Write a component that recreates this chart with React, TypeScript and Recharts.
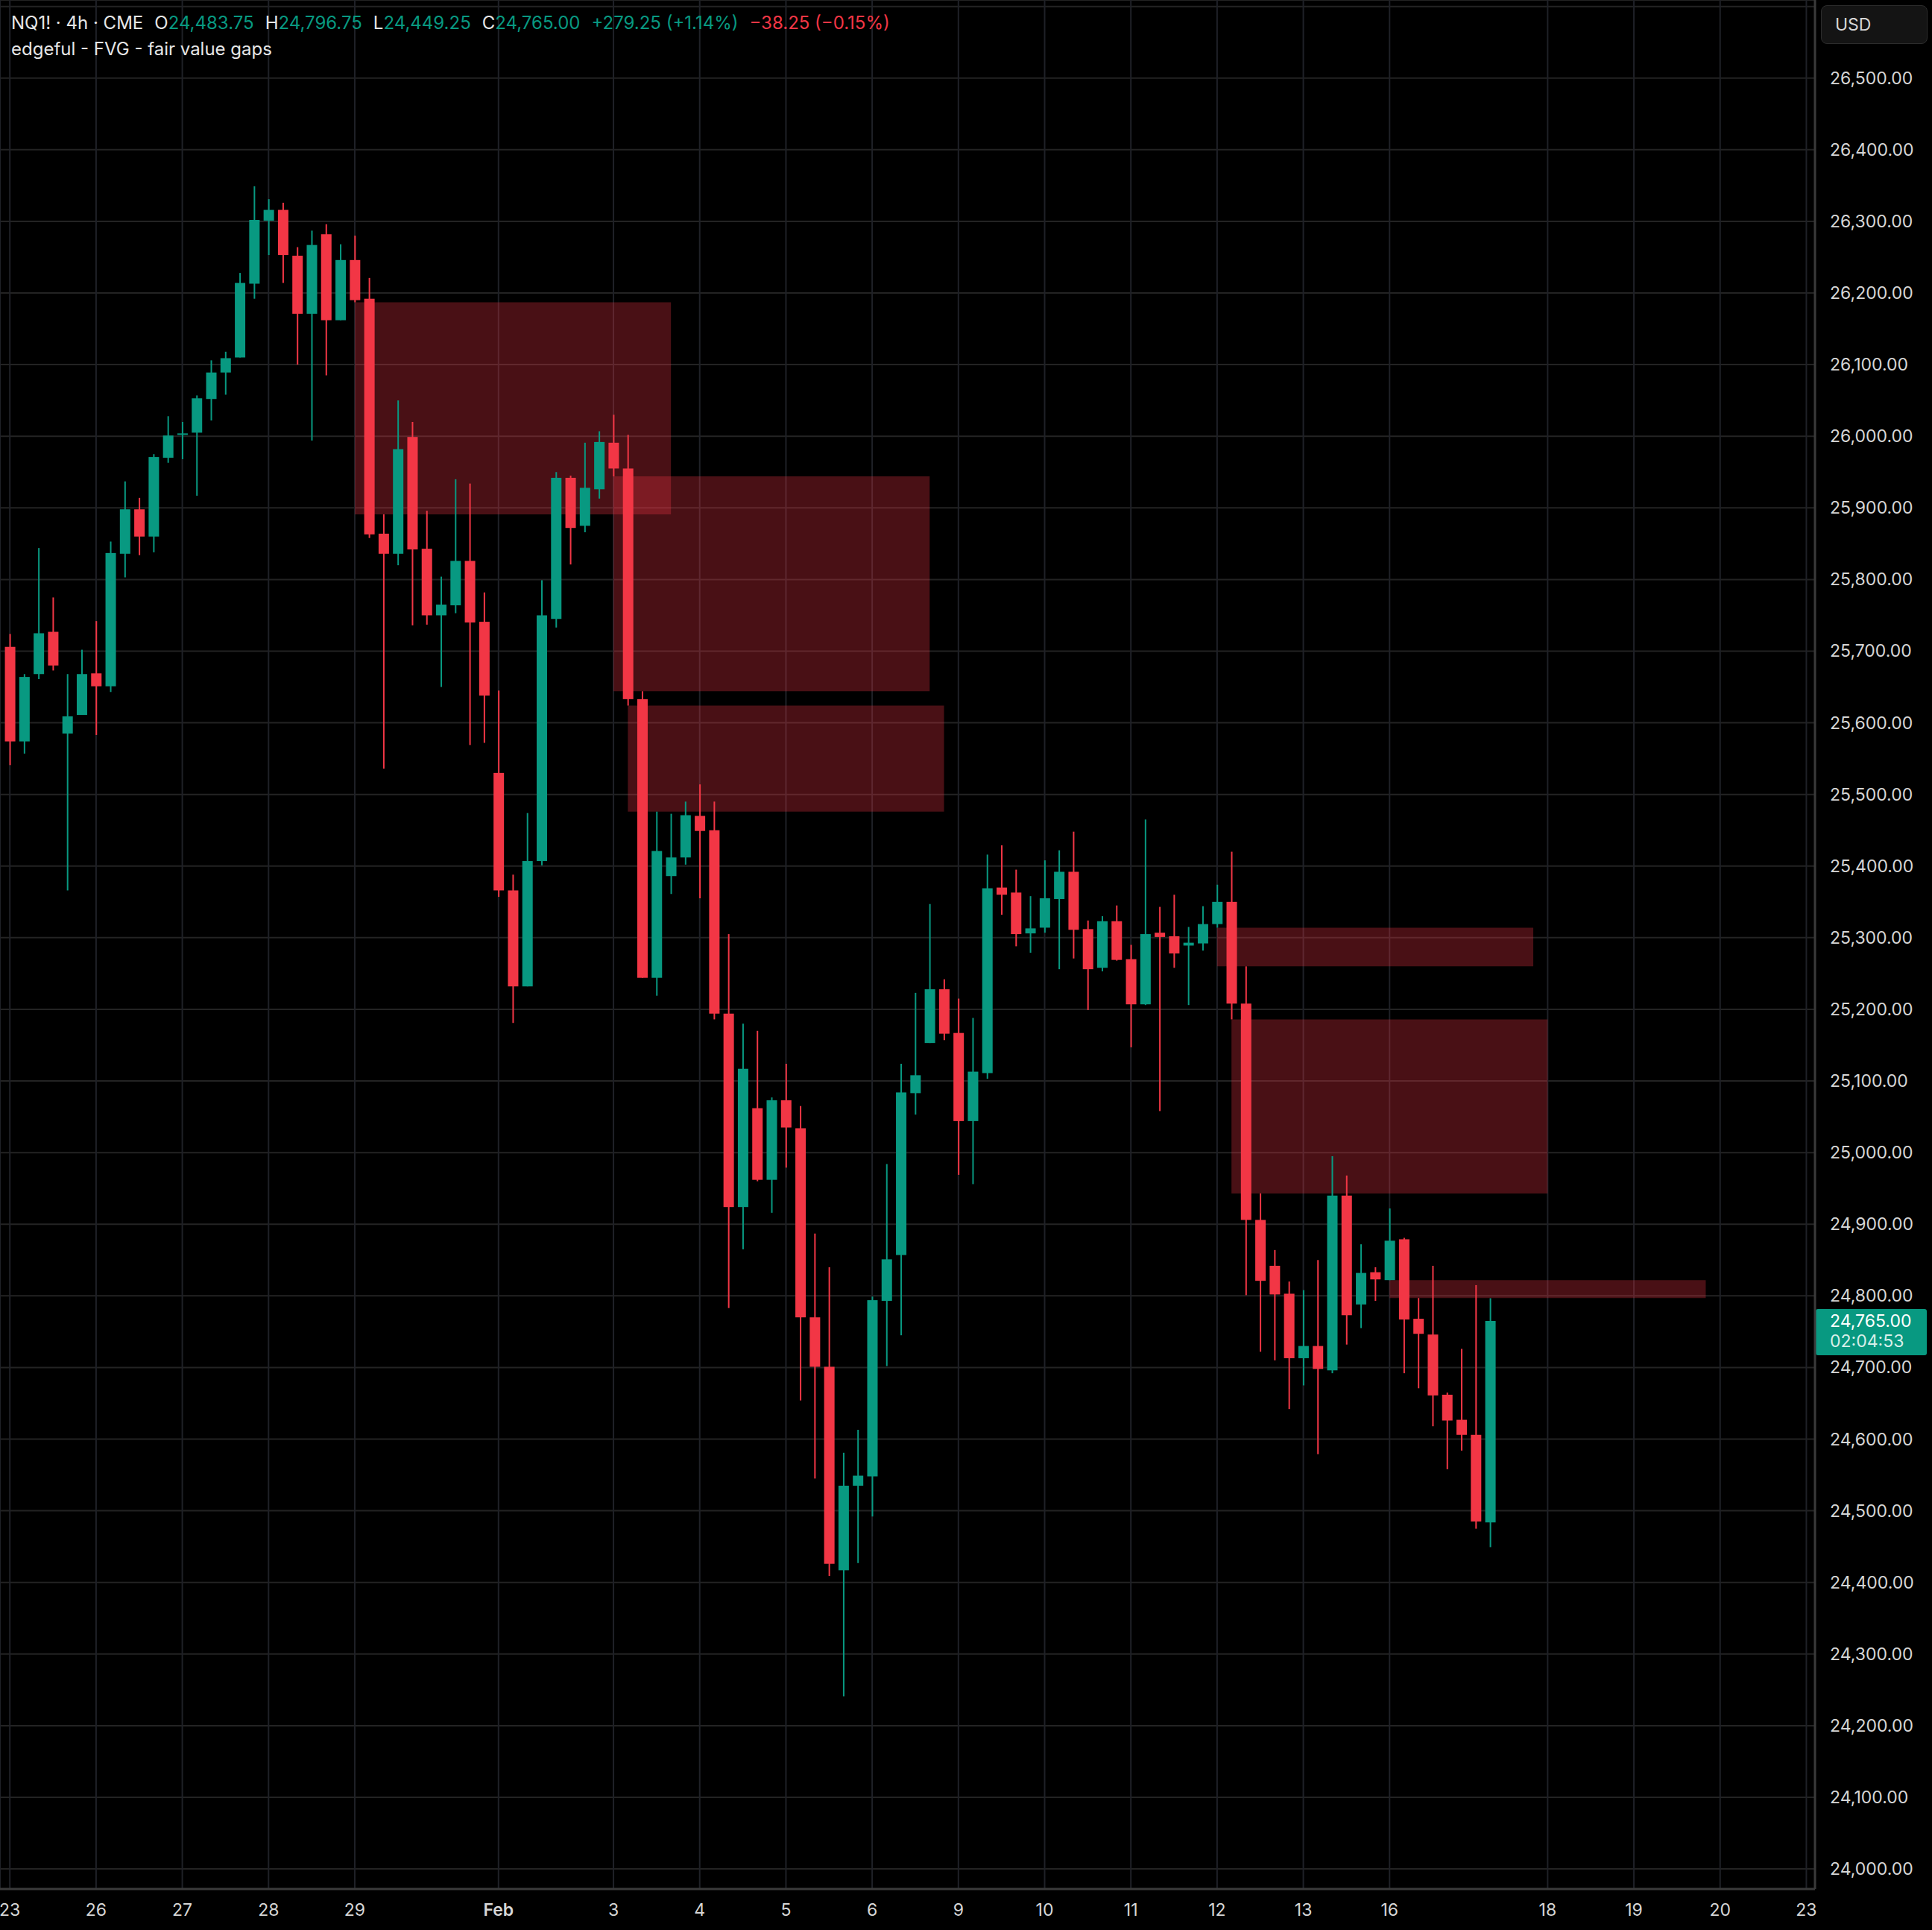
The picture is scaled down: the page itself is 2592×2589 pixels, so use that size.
import React from 'react';
import { ComposedChart, Bar, XAxis, YAxis, CartesianGrid, ReferenceArea, ReferenceLine } from 'recharts';

// NQ1! 4h candles
const opens = [
  25706, 25574, 25668, 25727, 25585, 25611, 25669, 25651, 25836, 25898,
  25860, 25970, 26002, 26005, 26052, 26089, 26110, 26213, 26301, 26316,
  26252, 26171, 26282, 26162, 26246, 26192, 25864, 25836, 25999, 25843,
  25750, 25764, 25826, 25741, 25530, 25366, 25232, 25407, 25745, 25942,
  25875, 25926, 25991, 25955, 25633, 25244, 25386, 25412, 25470, 25450,
  25194, 24924, 25062, 24962, 25073, 25034, 24770, 24701, 24417, 24535,
  24548, 24793, 24857, 25083, 25153, 25228, 25167, 25044, 25111, 25370,
  25363, 25306, 25314, 25354, 25392, 25312, 25258, 25323, 25270, 25207,
  25307, 25302, 25289, 25292, 25319, 25350, 25208, 24906, 24842, 24803,
  24713, 24730, 24696, 24940, 24788, 24833, 24822, 24879, 24768, 24746,
  24662, 24627, 24606, 24483.75,
];
const highs = [
  25724, 25668, 25844, 25775, 25668, 25702, 25742, 25853, 25937, 25914,
  25975, 26028, 26020, 26057, 26106, 26118, 26228, 26349, 26331, 26326,
  26264, 26287, 26296, 26268, 26280, 26221, 25891, 26050, 26020, 25896,
  25804, 25940, 25934, 25782, 25645, 25388, 25474, 25799, 25950, 25945,
  25991, 26007, 26030, 26002, 25644, 25476, 25473, 25490, 25514, 25490,
  25305, 25180, 25170, 25077, 25124, 25065, 24887, 24840, 24581, 24613,
  24799, 24984, 25124, 25223, 25347, 25242, 25215, 25188, 25416, 25429,
  25395, 25358, 25408, 25422, 25448, 25324, 25330, 25345, 25290, 25465,
  25343, 25360, 25315, 25344, 25374, 25420, 25260, 24943, 24864, 24820,
  24808, 24850, 24995, 24968, 24872, 24840, 24922, 24881, 24797, 24842,
  24665, 24726, 24815, 24796.75,
];
const lows = [
  25541, 25557, 25661, 25673, 25366, 25611, 25583, 25643, 25803, 25834,
  25838, 25963, 25968, 25917, 26022, 26058, 26110, 26192, 26253, 26214,
  26100, 25994, 26085, 26162, 26187, 25858, 25536, 25820, 25736, 25737,
  25650, 25753, 25569, 25572, 25357, 25181, 25232, 25401, 25733, 25821,
  25866, 25913, 25944, 25624, 25244, 25219, 25361, 25402, 25355, 25186,
  24783, 24865, 24960, 24916, 24979, 24654, 24545, 24409, 24241, 24427,
  24492, 24702, 24745, 25053, 25153, 25157, 24969, 24956, 25103, 25332,
  25288, 25279, 25307, 25256, 25271, 25199, 25253, 25268, 25147, 25206,
  25058, 25258, 25206, 25282, 25314, 25186, 24801, 24722, 24710, 24642,
  24675, 24579, 24692, 24732, 24755, 24793, 24822, 24692, 24671, 24618,
  24558, 24584, 24475, 24449.25,
];
const closes = [
  25574, 25664, 25725, 25680, 25609, 25668, 25651, 25837, 25898, 25860,
  25971, 26001, 26004, 26053, 26089, 26109, 26214, 26302, 26316, 26253,
  26171, 26267, 26162, 26246, 26190, 25863, 25836, 25982, 25842, 25750,
  25765, 25826, 25740, 25638, 25366, 25232, 25407, 25750, 25942, 25872,
  25928, 25992, 25955, 25633, 25244, 25421, 25412, 25471, 25449, 25194,
  24924, 25117, 24962, 25073, 25035, 24770, 24701, 24426, 24535, 24549,
  24794, 24851, 25084, 25108, 25228, 25166, 25044, 25113, 25369, 25360,
  25305, 25313, 25355, 25392, 25311, 25256, 25323, 25269, 25207, 25305,
  25301, 25278, 25293, 25319, 25350, 25208, 24906, 24821, 24802, 24713,
  24730, 24698, 24940, 24773, 24832, 24823, 24877, 24767, 24747, 24661,
  24626, 24606, 24485, 24765,
];

// x axis: bar index of each day label
const dayTicks = [0, 6, 12, 18, 24, 34, 42, 48, 54, 60, 66, 72, 78, 84, 90, 96, 107, 113, 119, 125];
const dayLabels = ['23', '26', '27', '28', '29', 'Feb', '3', '4', '5', '6', '9', '10', '11', '12', '13', '16', '18', '19', '20', '23'];

const priceTicks = [
  24000, 24100, 24200, 24300, 24400, 24500, 24600, 24700, 24800, 24900,
  25000, 25100, 25200, 25300, 25400, 25500, 25600, 25700, 25800, 25900,
  26000, 26100, 26200, 26300, 26400, 26500, 26600,
];

// fair value gaps (bar index from/to, price top/bottom)
const gapFrom = [24, 42, 43, 84, 85, 96];
const gapTo = [46, 64, 65, 106, 107, 118];
const gapTop = [26187, 25944, 25624, 25314, 25186, 24822];
const gapBottom = [25891, 25644, 25476, 25260, 24943, 24797];

const lastPrice = 24765;
const countdown = '02:04:53';

const UP = '#089981';
const DOWN = '#F23645';
const FONT = 'Inter, "Noto Sans", sans-serif';

const data = opens.map((o, i) => ({
  i,
  open: o,
  high: highs[i],
  low: lows[i],
  close: closes[i],
  range: [lows[i], highs[i]],
}));

const fmt = (v: number) => v.toLocaleString('en-US', { minimumFractionDigits: 2, maximumFractionDigits: 2 });

const Candle = (props: any) => {
  const { x, y, width, height, payload } = props;
  const { open, close, high, low } = payload;
  const py = (p: number) => y + ((high - p) / (high - low)) * height;
  const cx = x + width / 2;
  const color = close >= open ? UP : DOWN;
  const top = py(Math.max(open, close));
  const bottom = py(Math.min(open, close));
  return (
    <g>
      <rect x={cx - 1} y={y} width={2} height={height} fill={color} />
      <rect x={x} y={top} width={width} height={Math.max(bottom - top, 2)} fill={color} />
    </g>
  );
};

const PriceTick = (props: any) => {
  const { x, y, payload } = props;
  if (payload.value > 26500) return <g />;
  return (
    <text x={x} y={y} dominantBaseline="central" textAnchor="start" fill="#d6d6d6" fontSize={23} fontFamily={FONT}>
      {fmt(payload.value)}
    </text>
  );
};

const DayTick = (props: any) => {
  const { x, y, index } = props;
  const label = dayLabels[index] ?? '';
  return (
    <text x={x} y={y + 28} dominantBaseline="central" textAnchor="middle" fill="#d6d6d6" fontSize={23}
      fontWeight={label === 'Feb' ? 600 : 400} fontFamily={FONT}>
      {label}
    </text>
  );
};

const PriceTag = (props: any) => {
  const { viewBox } = props;
  const left = viewBox.x + viewBox.width + 1;
  const y = viewBox.y;
  return (
    <g>
      <rect x={left} y={y - 16} width={149} height={62} rx={3} fill={UP} />
      <text x={left + 19} y={y} dominantBaseline="central" fill="#ffffff" fontSize={23} fontFamily={FONT}>{fmt(lastPrice)}</text>
      <text x={left + 19} y={y + 27} dominantBaseline="central" fill="#d8efe9" fontSize={23} fontFamily={FONT}>{countdown}</text>
    </g>
  );
};

export default function App() {
  return (
    <div style={{ position: 'absolute', left: 0, top: 0, width: 2592, height: 2589, background: '#000', overflow: 'hidden', fontFamily: FONT }}>
      <ComposedChart width={2592} height={2589} data={data} margin={{ top: 0, right: 0, bottom: 0, left: 0 }}>
        <CartesianGrid vertical={false} stroke="#232323" strokeWidth={2} />
        <CartesianGrid horizontal={false} stroke="#1f2127" strokeWidth={2} />
        <XAxis
          dataKey="i"
          type="number"
          domain={[-0.685, 125.6]}
          allowDataOverflow
          ticks={dayTicks}
          interval={0}
          height={55}
          tickLine={false}
          tickSize={0}
          tickMargin={0}
          axisLine={{ stroke: '#3a3a3a', strokeWidth: 3 }}
          tick={<DayTick />}
        />
        <YAxis
          orientation="right"
          type="number"
          domain={[23972, 26609]}
          allowDataOverflow
          ticks={priceTicks}
          interval={0}
          width={157}
          tickLine={false}
          tickSize={0}
          tickMargin={20}
          axisLine={{ stroke: '#3a3a3a', strokeWidth: 3 }}
          tick={<PriceTick />}
        />
        {gapFrom.map((g, k) => (
          <ReferenceArea
            key={k}
            x1={g}
            x2={gapTo[k]}
            y1={gapBottom[k]}
            y2={gapTop[k]}
            fill={DOWN}
            fillOpacity={0.3}
            stroke="none"
          />
        ))}
        <Bar dataKey="range" barSize={14} shape={<Candle />} isAnimationActive={false} />
        <ReferenceLine y={lastPrice} stroke="none" strokeOpacity={0} label={<PriceTag />} />
      </ComposedChart>

      {/* legend */}
      <div style={{ position: 'absolute', left: 15, top: 13, fontSize: 24, lineHeight: '35px', color: '#e6e6e6' }}>
        <div style={{ display: 'flex', gap: 15, whiteSpace: 'nowrap' }}>
          <span>NQ1! · 4h · CME</span>
          <span>O<span style={{ color: UP }}>24,483.75</span></span>
          <span>H<span style={{ color: UP }}>24,796.75</span></span>
          <span>L<span style={{ color: UP }}>24,449.25</span></span>
          <span>C<span style={{ color: UP }}>24,765.00</span></span>
          <span style={{ color: UP }}>+279.25 (+1.14%)</span>
          <span style={{ color: DOWN }}>−38.25 (−0.15%)</span>
        </div>
        <div>edgeful - FVG - fair value gaps</div>
      </div>

      {/* currency button */}
      <div style={{ position: 'absolute', left: 2443, top: 7, width: 143, height: 52, borderRadius: 8, background: '#141414', border: '1px solid #2c2c2c', color: '#d6d6d6', fontSize: 23, lineHeight: '50px', paddingLeft: 18, boxSizing: 'border-box' }}>
        USD
      </div>
    </div>
  );
}
